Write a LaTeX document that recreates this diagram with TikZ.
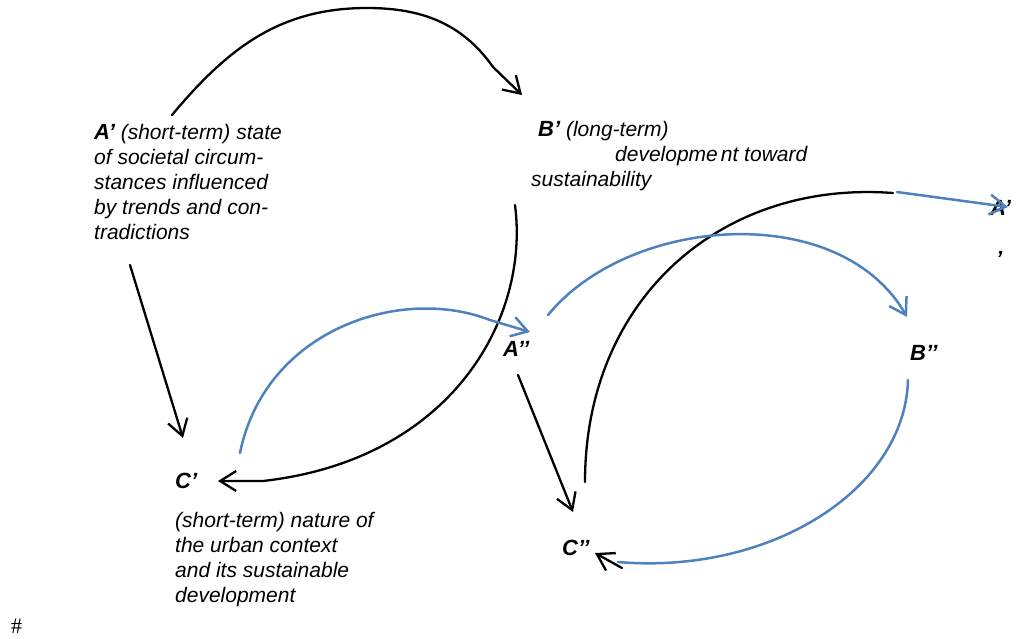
\documentclass[tikz,border=0pt]{standalone}
\usepackage{fontspec}
\setmainfont{Liberation Sans}
\newfontfamily\hashfont{Liberation Serif}
\usetikzlibrary{arrows.meta}
\definecolor{loopBlue}{HTML}{4F81BD}
\newcommand{\lab}[1]{{\fontsize{22}{25}\selectfont\bfseries\itshape #1}}

\begin{document}
\begin{tikzpicture}[
    x=1pt, y=-1pt,
    txt/.style={font=\fontsize{21}{25}\selectfont\itshape, align=left, inner sep=0pt, anchor=base west},
    lbl/.style={font=\fontsize{22}{25}\selectfont\bfseries\itshape, inner sep=0pt, anchor=base west},
    blk/.style={line width=2.3pt, draw=black, line cap=round, -{Straight Barb[length=16pt,width=20pt]}},
    blu/.style={line width=2.5pt, draw=loopBlue, line cap=round, -{Straight Barb[length=16pt,width=20pt]}},
    blkplain/.style={line width=2.3pt, draw=black, line cap=round},
    bluplain/.style={line width=2.5pt, draw=loopBlue, line cap=round}
]
\useasboundingbox (0,0) rectangle (1021,638);

% first loop (base anchor sits on the last line)
\node[txt] (Aone) at (94,239) {\lab{A’} (short-term) state\\of societal circum-\\stances influenced\\by trends and con-\\tradictions};
\node[txt] (Bone) at (531,186) {\hspace*{7pt}\lab{B’} (long-term)\\\hspace*{84pt}developme\hspace{3pt}nt toward\\sustainability};
\node[lbl] (Cone) at (175,488) {C’};
\node[txt] (Ctext) at (175,602) {(short-term) nature of\\the urban context\\and its sustainable\\development};

% second loop
\node[lbl] (Atwo) at (503,356) {A’’};
\node[lbl] (Btwo) at (910,360) {B’’};
\node[lbl] (Ctwo) at (562,555) {C’’};
\node[lbl] (Athree) at (990,215) {A’};
\node[lbl] (Athreeb) at (996,266) {’};
\node[inner sep=0pt, anchor=base west] (hash) at (11,633) {\hashfont\fontsize{22}{22}\selectfont\#};

% connector ends
\coordinate (a1) at (172,115);
\coordinate (t1) at (367,8);
\coordinate (k1) at (493,67);
\coordinate (b1) at (522,95);
\coordinate (b2) at (515,205);
\coordinate (k2) at (263,481);
\coordinate (c2) at (218,481);
\coordinate (a3) at (130,265);
\coordinate (c3) at (183,438);
\coordinate (a4) at (518,375);
\coordinate (c4) at (573,512);
\coordinate (c5) at (585,482);
\coordinate (k5) at (893,193);
\coordinate (s6) at (897,192);
\coordinate (e6) at (1008,207);
\coordinate (c7) at (240,453);
\coordinate (k7) at (490,320);
\coordinate (a7) at (530,332);
\coordinate (a8) at (548,315);
\coordinate (b8) at (907,317);
\coordinate (b9) at (908,380);
\coordinate (k9) at (618,562);
\coordinate (s10) at (622,568);
\coordinate (c10) at (595,553);

% black arrows
\draw[blk] (a1) .. controls (228,48) and (280,8) .. (t1) .. controls (421,8) and (462,23) .. (k1) -- (b1);
\draw[blk] (b2) .. controls (530,320) and (450,460) .. (k2) -- (c2);
\draw[blk] (a3) -- (c3);
\draw[blk] (a4) -- (c4);
\draw[blkplain] (c5) .. controls (585,300) and (720,180) .. (k5);
\draw[blk] (s10) -- (c10);

% blue arrows
\draw[blu] (c7) .. controls (265,330) and (400,285) .. (k7) -- (a7);
\draw[blu] (a8) .. controls (630,215) and (840,200) .. (b8);
\draw[bluplain] (b9) .. controls (905,490) and (770,575) .. (k9);
\draw[blu] (s6) -- (e6);

\end{tikzpicture}
\end{document}
